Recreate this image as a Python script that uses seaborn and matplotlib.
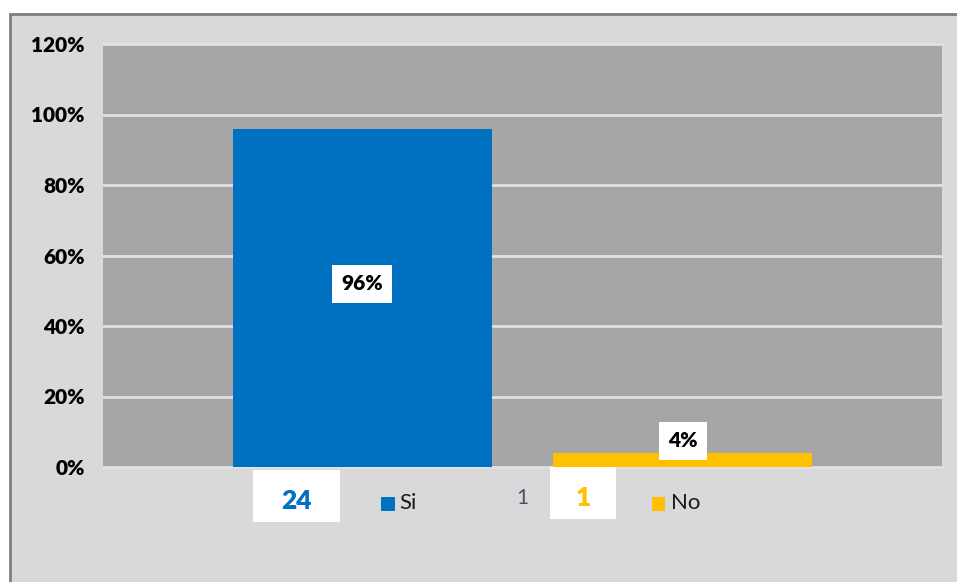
import matplotlib
matplotlib.use("Agg")
import matplotlib.pyplot as plt
from matplotlib.patches import Rectangle
import seaborn as sns
import pandas as pd

categories = ["Si", "No"]
counts = [24, 1]
percents = [0.96, 0.04]
pct_labels = ["96%", "4%"]
count_labels = ["24", "1"]
yticks = [0, 0.2, 0.4, 0.6, 0.8, 1.0, 1.2]
ytick_labels = ["0%", "20%", "40%", "60%", "80%", "100%", "120%"]
colors = ["#0070C0", "#FFC000"]

sns.set_theme(style="white")
plt.rcParams["font.family"] = ["Lato", "DejaVu Sans"]

W, H = 957, 582
fig = plt.figure(figsize=(W / 100, H / 100), dpi=100)
fig.patch.set_facecolor("white")

def fx(x):
    return x / W

def fy(y):
    return 1 - y / H

# outer chart area with border (top and left visible)
fig.patches.append(Rectangle((fx(10), fy(600)), fx(980) - fx(10), fy(14) - fy(600),
                             transform=fig.transFigure, facecolor="#D9D9D9",
                             edgecolor="#7F7F7F", linewidth=2, zorder=-5))

ax = fig.add_axes([fx(103), fy(467), fx(942) - fx(103), fy(44) - fy(467)])
ax.set_facecolor("#A6A6A6")
ax.set_zorder(1)

df = pd.DataFrame({"cat": categories, "pct": percents})
sns.barplot(data=df, x="cat", y="pct", hue="cat", palette=colors, width=0.807,
            ax=ax, legend=False, saturation=1, zorder=3, linewidth=0)

ax.set_xlim(-0.807, 1.807)
ax.set_ylim(0, 1.2)
ax.set_yticks(yticks)
ax.set_yticklabels(ytick_labels, fontsize=15, fontweight="heavy", color="black")
ax.tick_params(axis="y", length=0, pad=13)
ax.set_xticks([])
ax.set_xlabel("")
ax.set_ylabel("")
for s in ax.spines.values():
    s.set_visible(False)
for t in yticks:
    ax.axhline(t, color="#DDE2E8", linewidth=2, zorder=1, clip_on=False)

# data labels
ax.text(0, percents[0] / 2 + 0.04, pct_labels[0], ha="center", va="center", fontsize=15,
        fontweight="heavy", color="black", zorder=5,
        bbox=dict(boxstyle="square,pad=0.45", facecolor="white", edgecolor="none"))
ax.text(1, percents[1] + 0.034, pct_labels[1], ha="center", va="center", fontsize=15,
        fontweight="heavy", color="black", zorder=5,
        bbox=dict(boxstyle="square,pad=0.45", facecolor="white", edgecolor="none"))

# count boxes below axis
fig.patches.append(Rectangle((fx(253), fy(522)), fx(340) - fx(253), fy(470) - fy(522),
                             transform=fig.transFigure, facecolor="white", edgecolor="none", zorder=2))
fig.text(fx(296), fy(501), count_labels[0], ha="center", va="center", fontsize=19,
         fontweight="heavy", color=colors[0], zorder=3)
fig.patches.append(Rectangle((fx(550), fy(519)), fx(616) - fx(550), fy(467) - fy(519),
                             transform=fig.transFigure, facecolor="white", edgecolor="none", zorder=2))
fig.text(fx(583), fy(498), count_labels[1], ha="center", va="center", fontsize=19,
         fontweight="heavy", color=colors[1], zorder=3)
fig.text(fx(522), fy(498), str(counts[1]), ha="center", va="center", fontsize=15,
         color="#44546A", zorder=3)

# legend entries
fig.patches.append(Rectangle((fx(381), fy(511)), fx(395) - fx(381), fy(497) - fy(511),
                             transform=fig.transFigure, facecolor=colors[0], edgecolor="none", zorder=2))
fig.text(fx(399), fy(503), categories[0], ha="left", va="center", fontsize=16, color="#1a1a1a", zorder=3)
fig.patches.append(Rectangle((fx(652), fy(511)), fx(665) - fx(652), fy(497) - fy(511),
                             transform=fig.transFigure, facecolor=colors[1], edgecolor="none", zorder=2))
fig.text(fx(671), fy(503), categories[1], ha="left", va="center", fontsize=16, color="#1a1a1a", zorder=3)

fig.savefig("out.png", dpi=100, facecolor=fig.get_facecolor())
